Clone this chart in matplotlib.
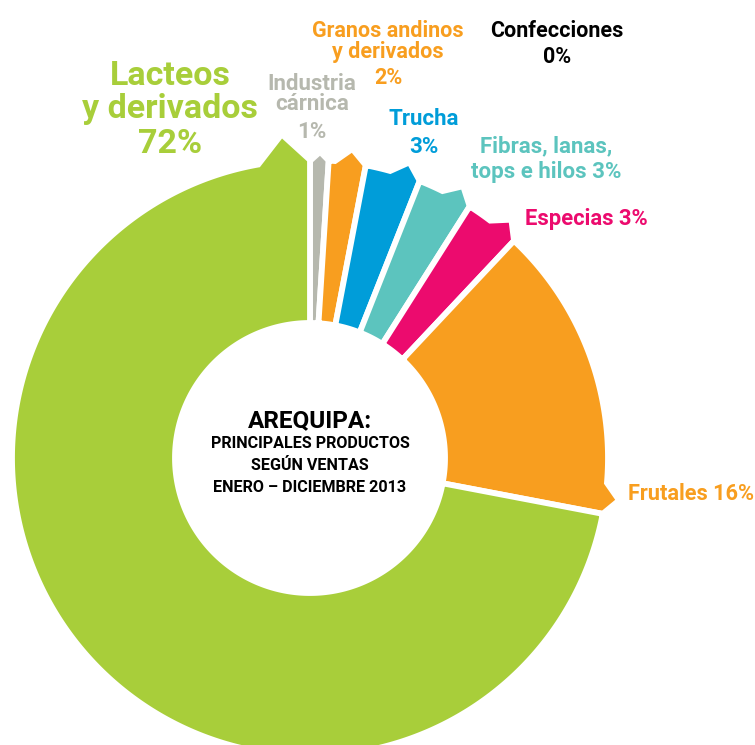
import numpy as np
import matplotlib
matplotlib.use("Agg")
import matplotlib.pyplot as plt
from matplotlib.patches import Polygon

# ---- data ----
categories = ["Industria cárnica", "Granos andinos y derivados", "Trucha",
              "Fibras, lanas, tops e hilos", "Especias", "Frutales", "Lacteos y derivados"]
values = [1, 2, 3, 3, 3, 16, 72]
colors = ["#B6B8AE", "#F89E1F", "#009DD9", "#5CC4BE", "#EC0B6E", "#F89E1F", "#A8CE3A"]

# ---- layout (pixels, y down) ----
W, H = 755, 745
cx, cy = 310, 458
R_out, R_in = 298, 135

fig = plt.figure(figsize=(W / 100, H / 100), dpi=100)
ax = fig.add_axes([0, 0, 1, 1])
ax.set_xlim(0, W)
ax.set_ylim(H, 0)
ax.set_aspect("equal")
ax.axis("off")

def pt(r, a_deg):
    a = np.radians(a_deg)
    return (cx + r * np.cos(a), cy - r * np.sin(a))

total = float(sum(values))
start = 90.0
for i, (v, c) in enumerate(zip(values, colors)):
    span = 360.0 * v / total
    a0 = start
    a1 = start - span
    start = a1
    big = span > 100
    w = 10.0 if big else min(6.0, 0.95 * span)
    h = 27.0 if big else 14.0 * min(1.0, span / 6.0)
    pts = []
    for a in np.linspace(a0, a1 + w, max(3, int((span - w) * 2) + 2)):
        pts.append(pt(R_out, a))
    pts.append(pt(R_out + h, a1 + 0.5 * w))
    pts.append(pt(R_out, a1))
    for a in np.linspace(a1, a0, max(3, int(span * 2) + 2)):
        pts.append(pt(R_in, a))
    poly = Polygon(pts, closed=True, facecolor=c, edgecolor="white",
                   linewidth=4.2, joinstyle="miter")
    ax.add_patch(poly)

# ---- labels ----
FAM = ["Roboto", "DejaVu Sans"]

def lines(txts, x, ys, size, color, ha="center"):
    for t, y in zip(txts, ys):
        ax.text(x, y, t, fontsize=size, color=color, ha=ha, va="baseline",
                fontweight="bold", family=FAM)

lines(["Lacteos", "y derivados", "72%"], 170, [85, 118, 153], 24.5, colors[6])
lines(["Industria", "cárnica", "1%"], 312, [90, 110, 138], 16, colors[0])
lines(["Granos andinos", "y derivados", "2%"], 388, [37, 58, 84], 15.5, colors[1])
lines(["Confecciones", "0%"], 557, [37, 63], 15.5, "#000000")
lines(["Trucha", "3%"], 424, [125, 153], 16, colors[2])
lines(["Fibras, lanas,", "tops e hilos 3%"], 546, [152, 178], 16, colors[3])
lines(["Especias 3%"], 525, [225], 15.8, colors[4], ha="left")
lines(["Frutales 16%"], 628, [500], 15.7, colors[5], ha="left")

lines(["AREQUIPA:"], 310, [427], 17.5, "#000000")
lines(["PRINCIPALES PRODUCTOS", "SEGÚN VENTAS", "ENERO – DICIEMBRE 2013"],
      310, [448, 470, 492], 11.6, "#000000")

fig.savefig("out.png", dpi=100, facecolor="white")
